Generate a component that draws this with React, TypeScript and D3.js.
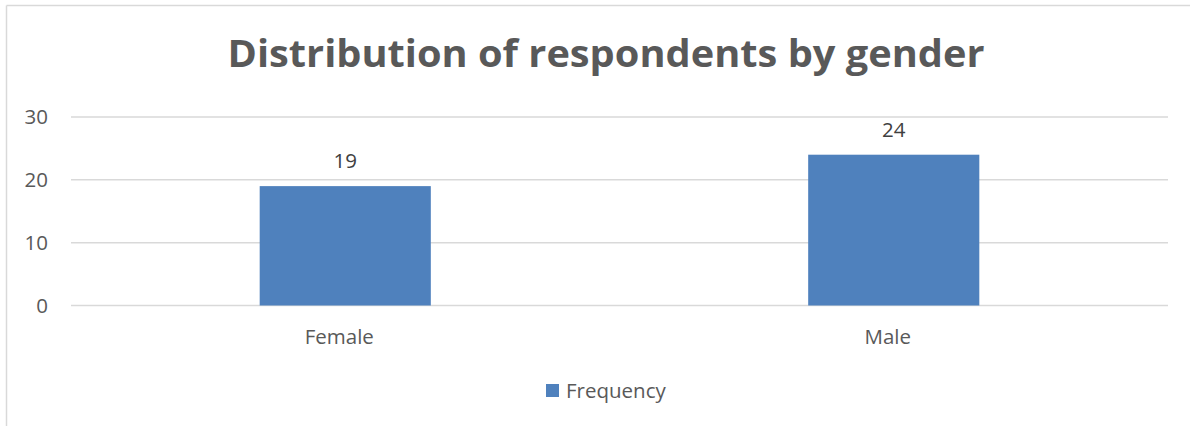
import React from "react";
import * as d3 from "d3";

const categories = ["Female", "Male"];
const frequency = [19, 24];
const yTicks = [0, 10, 20, 30];
const seriesName = "Frequency";
const title = "Distribution of respondents by gender";

const W = 1190;
const H = 426;
const plot = { left: 71, right: 1168, top: 117, bottom: 305.5 };
const FONT = "'Open Sans', 'Noto Sans', 'DejaVu Sans', sans-serif";
const TEXT = "#595959";
const BAR = "#4f81bd";
const LABEL_SIZE = 20.5;

export default function App() {
  const x = d3
    .scaleBand<string>()
    .domain(categories)
    .range([plot.left, plot.right])
    .paddingInner(0.688)
    .paddingOuter(0.344);
  const y = d3.scaleLinear().domain([0, 30]).range([plot.bottom, plot.top]);

  return (
    <svg
      width={W}
      height={H}
      style={{ position: "absolute", left: 0, top: 0, fontFamily: FONT }}
    >
      <rect x={0} y={0} width={W} height={H} fill="#fff" />
      {/* chart frame: only the top and left edges fall inside the view */}
      <line x1={6.5} y1={5.5} x2={W} y2={5.5} stroke="#d9d9d9" strokeWidth={1.5} />
      <line x1={6.5} y1={5.5} x2={6.5} y2={H} stroke="#d9d9d9" strokeWidth={1.5} />

      <text
        x={W / 2 + 11}
        y={67}
        textAnchor="middle"
        fill={TEXT}
        fontWeight="bold"
        fontSize={38}
        textLength={757}
        lengthAdjust="spacingAndGlyphs"
      >
        {title}
      </text>

      {yTicks.map((t) => (
        <g key={t}>
          <line
            x1={plot.left}
            x2={plot.right}
            y1={y(t)}
            y2={y(t)}
            stroke="#d9d9d9"
            strokeWidth={1.5}
          />
          <text
            x={48}
            y={y(t)}
            dy="0.35em"
            textAnchor="end"
            fill={TEXT}
            fontSize={LABEL_SIZE}
          >
            {t}
          </text>
        </g>
      ))}

      {categories.map((c, i) => {
        const bx = x(c)!;
        const cx = bx + x.bandwidth() / 2;
        return (
          <g key={c}>
            <rect
              x={bx}
              y={y(frequency[i])}
              width={x.bandwidth()}
              height={y(0) - y(frequency[i])}
              fill={BAR}
            />
            <text
              x={cx}
              y={y(frequency[i]) - 25}
              dy="0.35em"
              textAnchor="middle"
              fill="#404040"
              fontSize={LABEL_SIZE}
            >
              {frequency[i]}
            </text>
            <text
              x={cx - 6}
              y={337}
              dy="0.35em"
              textAnchor="middle"
              fill={TEXT}
              fontSize={LABEL_SIZE}
            >
              {c}
            </text>
          </g>
        );
      })}

      <rect x={546} y={384} width={13} height={13} fill={BAR} />
      <text x={566} y={390.5} dy="0.35em" fill={TEXT} fontSize={LABEL_SIZE}>
        {seriesName}
      </text>
    </svg>
  );
}
